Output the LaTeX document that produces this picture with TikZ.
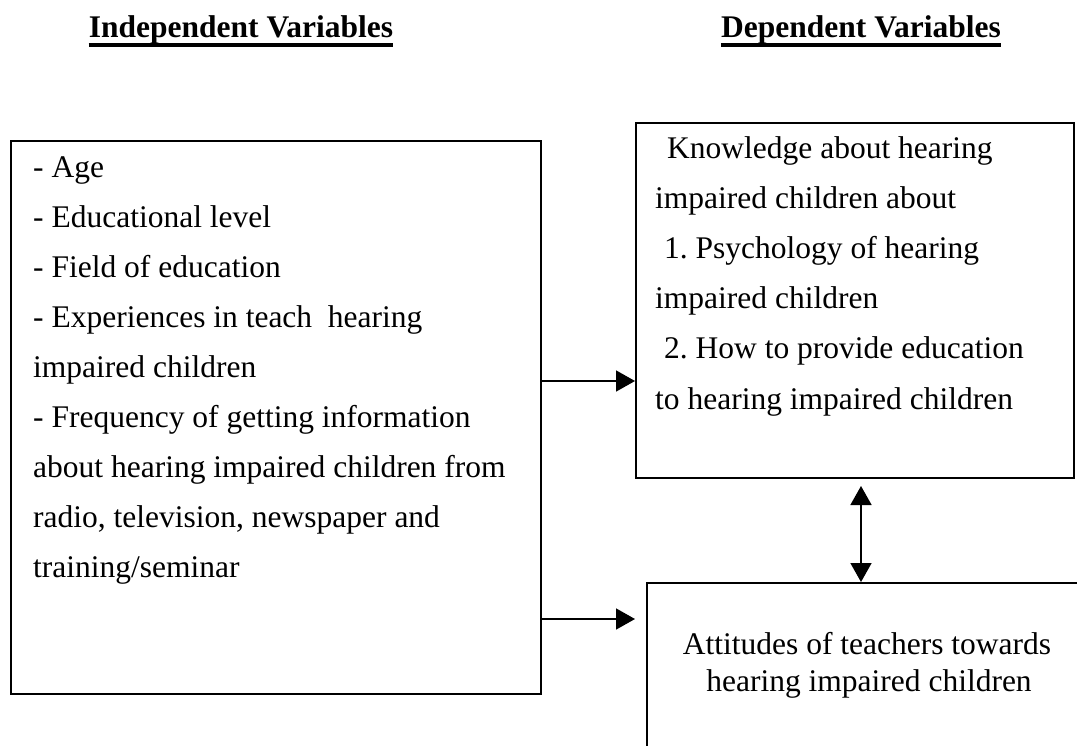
\documentclass[tikz,border=0pt]{standalone}
\usepackage{fontspec}
\setmainfont{Liberation Serif}
\usetikzlibrary{arrows.meta}
\frenchspacing
\begin{document}
\begin{tikzpicture}[x=1pt,y=-1pt,
  frame/.style={draw, line width=1.7pt, inner sep=0pt},
  txt/.style={anchor=base west, inner sep=0pt, font=\fontsize{31.5}{36}\selectfont},
  ctxt/.style={anchor=base, inner sep=0pt, font=\fontsize{31.5}{36}\selectfont},
  head/.style={anchor=base, inner sep=0pt, font=\fontsize{31.5}{36}\selectfont\bfseries},
  tip/.tip={Triangle[length=19pt,width=21pt]},
  link/.style={line width=1.6pt, -tip},
  twoway/.style={line width=1.6pt, tip-tip},
]
\useasboundingbox (0,0) rectangle (1077,745);
\clip (0,0) rectangle (1077,745);

% column headings
\node[head] (hi) at (241,37) {Independent Variables};
\node[head] (hd) at (861,37) {Dependent Variables};
\draw[line width=3.5pt] (hi.west |- 0,45) -- (hi.east |- 0,45);
\draw[line width=3.5pt] (hd.west |- 0,45) -- (hd.east |- 0,45);

% boxes
\node[frame, anchor=north west, minimum width=530pt, minimum height=553pt] (iv) at (10,140) {};
\node[frame, anchor=north west, minimum width=438pt, minimum height=355pt] (kn) at (635,122) {};
\node[frame, anchor=north west, minimum width=470pt, minimum height=200pt] (att) at (646,582) {};

% independent variables
\foreach \t [count=\i] in {
  - Age,
  - Educational level,
  - Field of education,
  - Experiences in teach\ \ hearing,
  impaired children,
  - Frequency of getting information,
  about hearing impaired children from,
  {radio, television, newspaper and},
  training/seminar}
  \node[txt] (iv-\i) at (33,{177+(\i-1)*50.1}) {\t};

% knowledge
\foreach \x/\t [count=\i] in {
  667/Knowledge about hearing,
  655/impaired children about,
  664/1. Psychology of hearing,
  655/impaired children,
  664/2. How to provide education,
  655/to hearing impaired children}
  \node[txt] (kn-\i) at (\x,{158+(\i-1)*50.2}) {\t};

% attitudes
\node[ctxt] (att-1) at (867,654) {Attitudes of teachers towards};
\node[ctxt] (att-2) at (869,691) {hearing impaired children};

% connectors
\coordinate (e1) at (635,381);
\coordinate (e2) at (635,619);
\coordinate (up) at (861,486);
\draw[link] (iv.east |- e1) -- (e1);
\draw[link] (iv.east |- e2) -- (e2);
\draw[twoway] (up) -- (att.north -| up);
\end{tikzpicture}
\end{document}
